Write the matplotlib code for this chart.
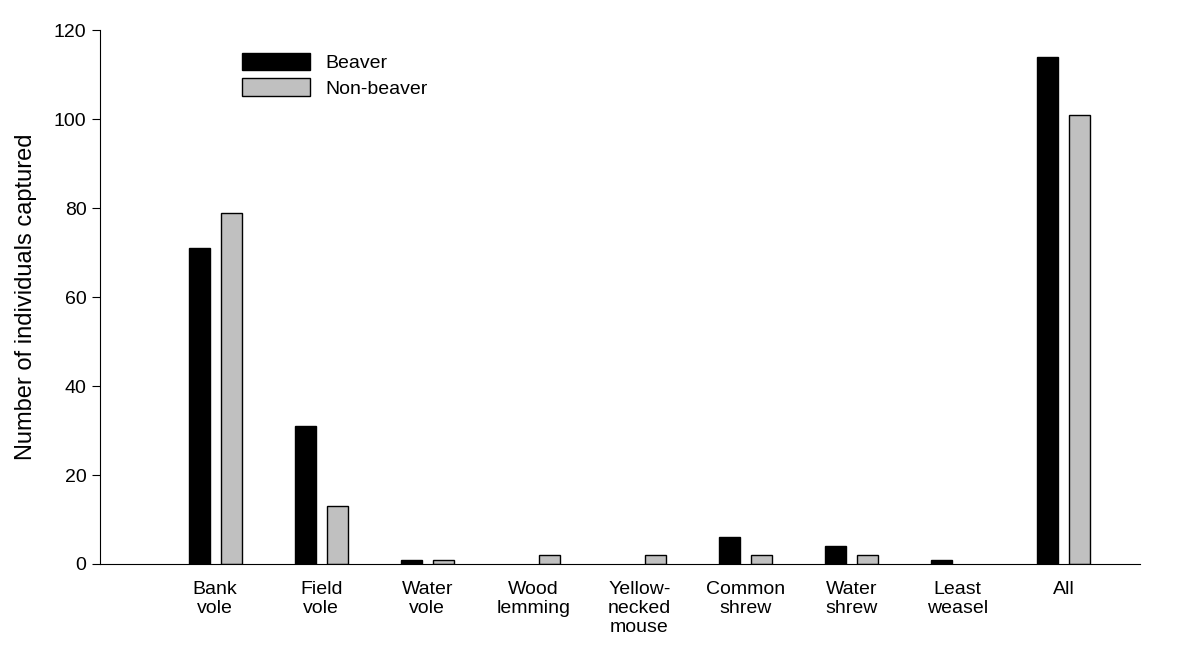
import matplotlib.pyplot as plt
import numpy as np

plt.rcParams['font.family'] = ['Liberation Sans', 'DejaVu Sans']

categories = ["Bank\nvole", "Field\nvole", "Water\nvole", "Wood\nlemming", "Yellow-\nnecked\nmouse",
              "Common\nshrew", "Water\nshrew", "Least\nweasel", "All"]
beaver = [71, 31, 1, 0, 0, 6, 4, 1, 114]
non_beaver = [79, 13, 1, 2, 2, 2, 2, 0, 101]

fig = plt.figure(figsize=(12, 6.57), dpi=100)
ax = fig.add_axes([0.083, 0.1416, 0.867, 0.8124])

x = np.arange(len(categories))
w = 0.2
# no outline on empty bars
lw_b = [1 if v > 0 else 0 for v in beaver]
lw_n = [1 if v > 0 else 0 for v in non_beaver]
ax.bar(x - 0.15, beaver, w, color="black", edgecolor="black", linewidth=lw_b, label="Beaver")
ax.bar(x + 0.15, non_beaver, w, color="#c0c0c0", edgecolor="black", linewidth=lw_n, label="Non-beaver")

ax.set_xlim(-1.09, 8.72)
ax.set_ylim(0, 120)
ax.set_yticks(range(0, 121, 20))
ax.set_xticks(x)
ax.set_xticklabels(categories, fontsize=14, va="top", linespacing=1.15)
ax.tick_params(axis="x", length=0, pad=12)
ax.tick_params(axis="y", labelsize=14, direction="out", length=6)
ax.set_ylabel("Number of individuals captured", fontsize=17, labelpad=12)
for s in ["top", "right"]:
    ax.spines[s].set_visible(False)

ax.legend(loc="upper left", bbox_to_anchor=(0.12, 0.99), frameon=False, fontsize=14,
          handlelength=3.5, handleheight=1.0, labelspacing=0.3)

plt.savefig("out.png", dpi=100)
